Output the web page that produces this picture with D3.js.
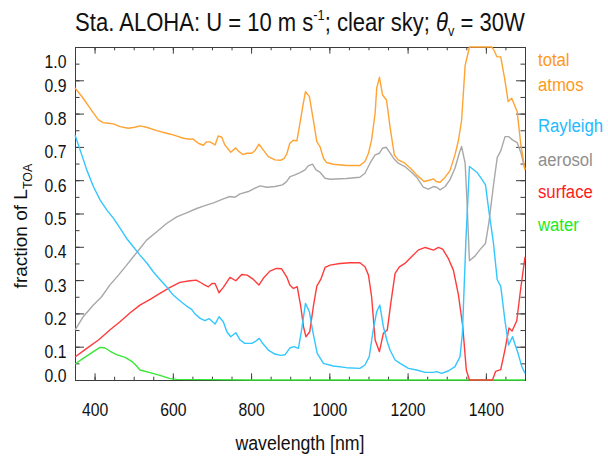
<!DOCTYPE html>
<html>
<head>
<meta charset="utf-8">
<script src="https://cdn.jsdelivr.net/npm/d3@7"></script>
<style>
  body { margin: 0; background: #fff; }
  svg { display: block; }
  text { font-family: "Liberation Sans", Arial, Helvetica, sans-serif; }
</style>
</head>
<body>
<svg id="chart" width="608" height="459"></svg>
<script>
// Fraction of top-of-atmosphere radiance by source, [wavelength nm, fraction]
const totalAtmos = [
  [350,0.877],[365,0.855],[380,0.831],[395,0.805],[410,0.781],[422,0.773],[435,0.771],[448,0.769],
  [465,0.761],[486,0.756],[503,0.759],[516,0.763],[533,0.759],[559,0.749],[584,0.741],[601,0.736],
  [627,0.726],[644,0.723],[651,0.724],[665,0.711],[678,0.705],[686,0.715],[695,0.715],[708,0.706],
  [716,0.733],[725,0.729],[733,0.706],[748,0.684],[761,0.697],[767,0.688],[779,0.677],[789,0.681],
  [802,0.681],[810,0.689],[820,0.708],[831,0.691],[844,0.671],[861,0.661],[876,0.660],[884,0.665],
  [891,0.678],[899,0.711],[908,0.720],[917,0.718],[923,0.758],[932,0.821],[939,0.866],[949,0.851],
  [959,0.781],[968,0.716],[976,0.701],[985,0.666],[993,0.653],[1010,0.648],[1044,0.644],[1078,0.644],
  [1091,0.656],[1100,0.681],[1108,0.721],[1117,0.801],[1121,0.876],[1128,0.909],[1136,0.856],[1146,0.841],
  [1155,0.761],[1166,0.676],[1176,0.661],[1193,0.651],[1210,0.633],[1223,0.616],[1242,0.596],[1253,0.599],
  [1266,0.604],[1273,0.596],[1283,0.594],[1296,0.609],[1308,0.628],[1321,0.676],[1330,0.720],[1338,0.780],
  [1347,0.944],[1358,1.0],[1415,1.0],[1421,0.990],[1428,0.971],[1438,0.970],[1448,0.905],[1457,0.836],
  [1466,0.846],[1480,0.806],[1489,0.710],[1500,0.630]
];

const rayleigh = [
  [350,0.736],[363,0.691],[380,0.631],[397,0.581],[414,0.541],[431,0.511],[448,0.486],[465,0.456],
  [482,0.425],[499,0.400],[516,0.375],[533,0.352],[550,0.325],[567,0.302],[584,0.280],[601,0.255],
  [618,0.238],[635,0.222],[648,0.212],[657,0.198],[670,0.185],[682,0.178],[693,0.184],[708,0.168],
  [718,0.190],[729,0.175],[738,0.145],[748,0.130],[761,0.142],[772,0.120],[784,0.110],[802,0.110],
  [810,0.115],[821,0.125],[831,0.108],[844,0.090],[861,0.078],[876,0.074],[887,0.076],[899,0.096],
  [910,0.100],[921,0.095],[929,0.150],[939,0.230],[949,0.205],[957,0.150],[969,0.080],[985,0.050],
  [1010,0.042],[1044,0.037],[1078,0.035],[1091,0.045],[1102,0.070],[1112,0.150],[1121,0.205],[1129,0.225],
  [1138,0.160],[1148,0.115],[1155,0.090],[1168,0.060],[1181,0.050],[1202,0.035],[1223,0.030],[1245,0.023],
  [1266,0.023],[1274,0.025],[1287,0.020],[1304,0.027],[1321,0.040],[1334,0.070],[1340,0.140],[1349,0.420],
  [1358,0.641],[1377,0.624],[1389,0.604],[1399,0.586],[1408,0.505],[1419,0.415],[1429,0.301],[1438,0.281],
  [1449,0.176],[1458,0.105],[1468,0.130],[1481,0.085],[1492,0.040],[1500,0.020]
];

const aerosol = [
  [350,0.150],[371,0.190],[397,0.225],[418,0.250],[439,0.285],[461,0.315],[482,0.345],[499,0.370],
  [516,0.395],[533,0.420],[559,0.445],[584,0.470],[610,0.490],[635,0.502],[661,0.515],[678,0.522],
  [704,0.532],[729,0.544],[746,0.551],[759,0.549],[772,0.559],[793,0.566],[810,0.576],[823,0.583],
  [840,0.579],[861,0.581],[880,0.586],[890,0.595],[900,0.611],[912,0.616],[925,0.623],[938,0.631],
  [946,0.643],[957,0.648],[966,0.631],[976,0.624],[989,0.606],[1002,0.603],[1044,0.605],[1078,0.609],
  [1091,0.621],[1104,0.651],[1117,0.676],[1128,0.681],[1136,0.696],[1145,0.699],[1153,0.686],[1164,0.666],
  [1176,0.651],[1193,0.641],[1210,0.624],[1223,0.609],[1240,0.579],[1253,0.573],[1266,0.581],[1274,0.579],
  [1283,0.571],[1296,0.581],[1308,0.601],[1321,0.636],[1332,0.681],[1338,0.701],[1347,0.651],[1352,0.530],
  [1358,0.358],[1372,0.372],[1386,0.393],[1399,0.410],[1408,0.475],[1419,0.581],[1429,0.668],[1438,0.688],
  [1449,0.731],[1458,0.731],[1468,0.721],[1480,0.713],[1490,0.681],[1500,0.632]
];

const surface = [
  [350,0.069],[380,0.095],[410,0.120],[439,0.150],[465,0.175],[491,0.202],[516,0.225],[542,0.242],
  [567,0.260],[593,0.278],[618,0.293],[644,0.298],[660,0.300],[672,0.292],[682,0.285],[691,0.280],
  [700,0.290],[708,0.290],[718,0.262],[729,0.278],[746,0.308],[761,0.298],[776,0.317],[790,0.315],
  [806,0.302],[820,0.285],[833,0.308],[848,0.327],[865,0.335],[878,0.334],[891,0.310],[899,0.285],
  [908,0.275],[918,0.280],[927,0.220],[934,0.160],[940,0.130],[950,0.145],[959,0.220],[968,0.282],
  [978,0.302],[989,0.338],[1002,0.345],[1027,0.350],[1053,0.352],[1078,0.352],[1091,0.340],[1100,0.315],
  [1108,0.250],[1117,0.120],[1128,0.085],[1138,0.140],[1148,0.150],[1157,0.230],[1168,0.320],[1179,0.340],
  [1193,0.350],[1210,0.370],[1227,0.390],[1245,0.398],[1266,0.390],[1279,0.398],[1290,0.392],[1304,0.365],
  [1317,0.330],[1330,0.255],[1341,0.160],[1350,0.030],[1358,0.0],[1417,0.0],[1425,0.026],[1438,0.031],
  [1449,0.092],[1459,0.156],[1467,0.147],[1479,0.178],[1488,0.265],[1500,0.370]
];

const water = [
  [350,0.048],[371,0.065],[397,0.085],[414,0.098],[427,0.096],[439,0.087],[456,0.076],[478,0.068],
  [495,0.056],[505,0.045],[516,0.030],[542,0.022],[567,0.014],[593,0.004],[610,0.002],[700,0.001],
  [800,0.0],[1500,0.0]
];

const xTickLabels = [400, 600, 800, 1000, 1200, 1400];
const yTickLabels = [0.0, 0.1, 0.2, 0.3, 0.4, 0.5, 0.6, 0.7, 0.8, 0.9, 1.0];
const legendLines = [
  { text: "total",    key: "total" },
  { text: "atmos",    key: "total" },
  { text: "Rayleigh", key: "rayleigh" },
  { text: "aerosol",  key: "aerosol" },
  { text: "surface",  key: "surface" },
  { text: "water",    key: "water" }
];

const lineColor = { total: "#ffa333", rayleigh: "#33c6ff", aerosol: "#a8a8a8", surface: "#ff3b3b", water: "#36e836" };
const textColor = { total: "#ff991a", rayleigh: "#1fbaff", aerosol: "#8f8f8f", surface: "#ff1a1a", water: "#1aeb1a" };
const axisColor = "#3c3c3c";

const svg = d3.select("#chart");
const x = d3.scaleLinear().domain([350, 1500]).range([75, 525]);
const y = d3.scaleLinear().domain([0, 1]).range([380, 47]);

// plot frame
svg.append("rect")
  .attr("x", x(350) + 0.5).attr("y", y(1) + 0.5)
  .attr("width", x(1500) - x(350)).attr("height", y(0) - y(1))
  .attr("fill", "none").attr("stroke", axisColor).attr("stroke-width", 1);

function plain(g) {
  g.select(".domain").remove();
  g.selectAll(".tick line").attr("stroke", axisColor).attr("stroke-width", 1);
}

const xMinor = d3.range(350, 1501, 50);
const yMinor = d3.range(0, 1.0001, 0.05);

// inward-pointing ticks on all four sides
svg.append("g").attr("transform", `translate(0,${y(0)})`)
  .call(d3.axisBottom(x).tickValues(xMinor).tickSize(-3.3).tickFormat("")).call(plain);
svg.append("g").attr("transform", `translate(0,${y(1)})`)
  .call(d3.axisTop(x).tickValues(xMinor).tickSize(-3.3).tickFormat("")).call(plain);
svg.append("g").attr("transform", `translate(0,${y(1)})`)
  .call(d3.axisTop(x).tickValues(xTickLabels).tickSize(-6.7).tickFormat("")).call(plain);
svg.append("g").attr("transform", `translate(${x(350)},0)`)
  .call(d3.axisLeft(y).tickValues(yMinor).tickSize(-4.5).tickFormat("")).call(plain);
svg.append("g").attr("transform", `translate(${x(1500)},0)`)
  .call(d3.axisRight(y).tickValues(yMinor).tickSize(-4.5).tickFormat("")).call(plain);
svg.append("g").attr("transform", `translate(${x(1500)},0)`)
  .call(d3.axisRight(y).tickValues(yTickLabels).tickSize(-9).tickFormat("")).call(plain);

// labelled bottom axis
const xAxisG = svg.append("g").attr("transform", `translate(0,${y(0)})`)
  .call(d3.axisBottom(x).tickValues(xTickLabels).tickSize(-6.7).tickPadding(23).tickFormat(d3.format("d")))
  .call(plain);
xAxisG.selectAll(".tick text")
  .attr("font-size", 19).attr("fill", "#111")
  .attr("font-family", '"Liberation Sans", Arial, sans-serif')
  .attr("transform", "scale(0.83,1)");

// labelled left axis; end labels are kept inside the frame
const yAxisG = svg.append("g").attr("transform", `translate(${x(350)},0)`)
  .call(d3.axisLeft(y).tickValues(yTickLabels).tickSize(-9).tickFormat(d3.format(".1f")))
  .call(plain);
yAxisG.selectAll(".tick text")
  .attr("font-size", 19).attr("fill", "#111")
  .attr("font-family", '"Liberation Sans", Arial, sans-serif')
  .attr("x", 0).attr("dy", null)
  .attr("y", 0)
  .attr("transform", d => {
    const base = Math.min(Math.max(y(d) + 11, y(1) + 20), y(0) + 1.5);
    return `translate(-8.5,${base - y(d)}) scale(0.83,1)`;
  });

// series lines
const line = d3.line().x(d => x(d[0])).y(d => y(d[1]));
const series = [
  { key: "water", data: water },
  { key: "surface", data: surface },
  { key: "aerosol", data: aerosol },
  { key: "rayleigh", data: rayleigh },
  { key: "total", data: totalAtmos }
];
svg.append("g").selectAll("path").data(series).join("path")
  .attr("d", d => line(d.data))
  .attr("fill", "none")
  .attr("stroke", d => lineColor[d.key])
  .attr("stroke-width", 1.4)
  .attr("stroke-linejoin", "round");

// legend
const legendBaselines = [66, 91, 131.5, 165.5, 198, 231];
svg.append("g").selectAll("text").data(legendLines).join("text")
  .attr("transform", (d, i) => `translate(538,${legendBaselines[i]}) scale(0.88,1)`)
  .attr("font-size", 19)
  .attr("fill", d => textColor[d.key])
  .text(d => d.text);

// axis titles
svg.append("text")
  .attr("transform", "translate(300,450) scale(0.91,1)")
  .attr("text-anchor", "middle").attr("font-size", 19.5).attr("fill", "#111")
  .text("wavelength [nm]");

const yTitle = svg.append("text")
  .attr("transform", "translate(27,226) rotate(-90)")
  .attr("text-anchor", "middle").attr("font-size", 19).attr("fill", "#111");
yTitle.append("tspan").text("fraction of L");
yTitle.append("tspan").attr("font-size", 12.5).attr("dy", 5).text("TOA");

// title
const title = svg.append("text")
  .attr("text-anchor", "middle").attr("font-size", 26).attr("fill", "#111");
title.append("tspan").text("Sta. ALOHA: U = 10 m s");
title.append("tspan").attr("font-size", 15).attr("dy", -11).text("-1");
title.append("tspan").attr("dy", 11).text("; clear sky; ");
title.append("tspan").attr("font-style", "italic").text("θ");
title.append("tspan").attr("font-size", 15).attr("dy", 5).text("v");
title.append("tspan").attr("dy", -5).text(" = 30W");
const tw = title.node().getComputedTextLength();
title.attr("transform", `translate(300,31) scale(${450 / tw},1)`);
</script>
</body>
</html>
